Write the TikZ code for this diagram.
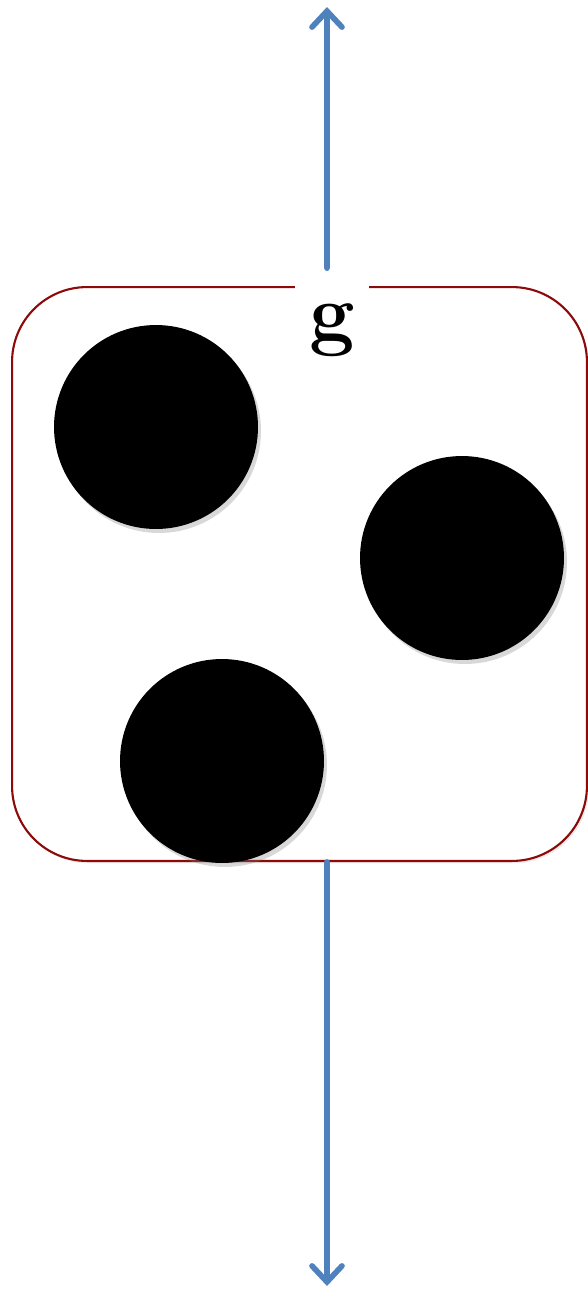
\documentclass[tikz,border=0pt]{standalone}
\usepackage{tikz}
\usetikzlibrary{arrows.meta, positioning, shadows}
\definecolor{boxred}{RGB}{140,10,10}
\definecolor{arrblue}{RGB}{79,129,189}

\begin{document}
\begin{tikzpicture}[
    x=0.02cm, y=-0.02cm,
    cell/.style={rectangle, rounded corners=1.5cm, draw=boxred, line width=1.2pt, fill=white,
                 minimum width=11.5cm, minimum height=11.48cm,
                 drop shadow={shadow xshift=0.04cm, shadow yshift=-0.05cm, opacity=0.15}},
    ball/.style={circle, fill=black, minimum size=4.08cm, inner sep=0pt,
                 drop shadow={shadow xshift=0.06cm, shadow yshift=-0.08cm, opacity=0.3}},
    glabel/.style={rectangle, fill=white, minimum width=1.48cm, minimum height=2.3cm,
                   inner sep=0pt, font=\fontsize{46}{50}\selectfont\bfseries},
    arr/.style={-{Straight Barb[length=0.32cm, width=0.6cm, line cap=round]}, line width=3.2pt,
                draw=arrblue, line cap=round}
]
\useasboundingbox (0,0) rectangle (588,1292);

\node[cell] (box) at (299.5,574) {};

\node[ball] (b1) at (156,427) {};
\node[ball] (b2) at (462,558) {};
\node[ball] (b3) at (222,761) {};

\node[glabel] (g) at (332,330) {g};

\coordinate (top) at (327,7);
\coordinate (bot) at (327,1286);

\draw[arr] ([xshift=-0.1cm]g.north) ++(0,-4) -- (top);
\draw[arr] (box.south -| top) -- (bot);
\end{tikzpicture}
\end{document}
